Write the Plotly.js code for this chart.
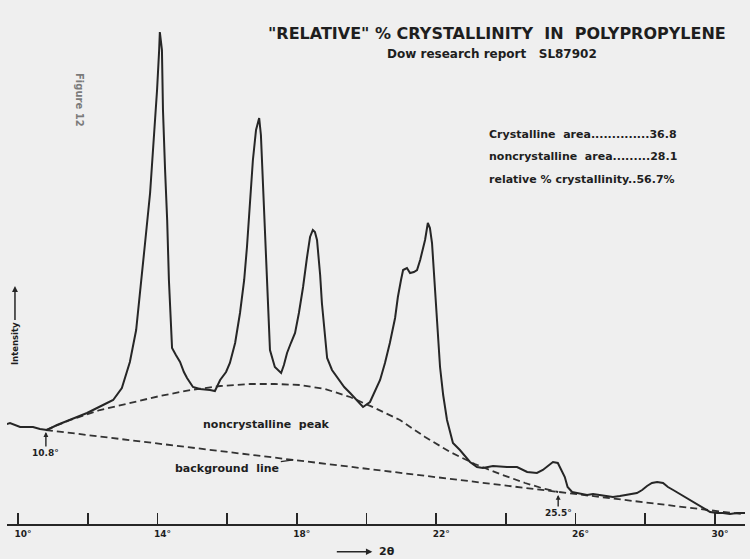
<!DOCTYPE html>
<html>
<head>
<meta charset="utf-8">
<script src="https://cdn.plot.ly/plotly-3.0.1.min.js"></script>
<style>
  html, body { margin: 0; padding: 0; background: #efefef; }
  #chart { width: 750px; height: 559px; }
</style>
</head>
<body>
<div id="chart"></div>
<script>
// Diffraction angle (degrees 2θ) and recorded intensity (arbitrary units)
const twoTheta = [9.68, 9.77, 10.06, 10.43, 10.63, 10.83, 11.12, 11.49, 11.98, 12.44, 12.73, 12.98, 13.21, 13.39, 13.50, 13.64, 13.79, 13.90, 13.99, 14.05, 14.07, 14.13, 14.16, 14.22, 14.28, 14.33, 14.39, 14.42, 14.53, 14.65, 14.76, 14.85, 15.02, 15.22, 15.51, 15.65, 15.80, 15.97, 16.08, 16.23, 16.37, 16.49, 16.57, 16.66, 16.74, 16.83, 16.92, 16.97, 17.03, 17.09, 17.15, 17.20, 17.23, 17.37, 17.55, 17.63, 17.72, 17.83, 17.95, 18.06, 18.18, 18.29, 18.38, 18.46, 18.52, 18.58, 18.67, 18.72, 18.81, 18.87, 19.01, 19.15, 19.36, 19.53, 19.73, 19.90, 20.10, 20.24, 20.39, 20.53, 20.67, 20.82, 20.90, 20.99, 21.05, 21.16, 21.25, 21.36, 21.45, 21.54, 21.59, 21.68, 21.76, 21.82, 21.88, 21.94, 21.99, 22.05, 22.11, 22.20, 22.31, 22.48, 22.68, 22.97, 23.17, 23.34, 23.63, 24.03, 24.32, 24.61, 24.89, 25.06, 25.35, 25.49, 25.69, 25.77, 25.90, 26.04, 26.18, 26.33, 26.50, 26.70, 26.90, 27.07, 27.27, 27.48, 27.62, 27.76, 27.91, 28.05, 28.19, 28.34, 28.51, 28.65, 28.80, 29.00, 29.20, 29.37, 29.57, 29.71, 29.86, 30.06, 30.23, 30.43, 30.63, 30.86];
const intensity = [100, 101, 97, 97, 95, 94, 99, 104, 111, 119, 124, 136, 162, 194, 234, 279, 331, 384, 434, 474, 492, 474, 414, 354, 304, 244, 194, 176, 169, 162, 152, 146, 137, 135, 134, 133, 144, 152, 161, 181, 211, 244, 277, 319, 364, 394, 406, 389, 337, 284, 237, 194, 174, 157, 151, 159, 171, 181, 191, 211, 237, 266, 287, 294, 292, 284, 249, 221, 184, 166, 154, 147, 137, 131, 124, 117, 122, 132, 144, 161, 181, 206, 227, 244, 254, 256, 251, 252, 254, 264, 271, 284, 301, 296, 281, 249, 214, 184, 157, 129, 104, 81, 74, 62, 57, 56, 58, 57, 57, 52, 51, 54, 62, 61, 47, 37, 32, 31, 30, 29, 30, 29, 28, 27, 28, 29, 30, 31, 34, 38, 41, 42, 41, 37, 34, 30, 26, 22, 18, 15, 12, 11, 11, 10, 11, 11];

// Amorphous (noncrystalline) hump, drawn between 10.8° and 25.5°
const amorphTheta = [10.80, 11.49, 12.35, 13.21, 14.07, 14.94, 15.80, 16.66, 17.37, 18.09, 18.81, 19.53, 20.24, 20.96, 21.68, 22.40, 23.11, 23.83, 24.55, 25.12, 25.50];
const amorphInt = [94, 104, 114, 121, 128, 134, 138, 140, 140, 139, 135, 127, 116, 104, 87, 72, 60, 50, 41, 35, 32];

// Straight background line
const bgTheta = [10.8, 30.75];
const bgInt = [94, 10];

// Axis ticks every 2°, labelled every 4°
const tickVals = [10, 12, 14, 16, 18, 20, 22, 24, 26, 28, 30];
const tickText = ['10°', '', '14°', '', '18°', '', '22°', '', '26°', '', '30°'];

// Integration limits marked on the trace
const limitLow = 10.8;
const limitHigh = 25.5;

// Summary figures
const crystArea = 36.8;
const noncrystArea = 28.1;
const relCryst = 56.7;

const ink = '#262626';
const lettering = 'DejaVu Sans, Verdana, sans-serif';

function interp(xs, ys, x) {
  for (let i = 1; i < xs.length; i++) {
    if (x <= xs[i]) {
      const t = (x - xs[i - 1]) / (xs[i] - xs[i - 1]);
      return ys[i - 1] + t * (ys[i] - ys[i - 1]);
    }
  }
  return ys[ys.length - 1];
}

const traces = [
  {
    x: bgTheta, y: bgInt, mode: 'lines', hoverinfo: 'skip',
    line: { color: '#333', width: 1.8, dash: '7px,4px' }
  },
  {
    x: amorphTheta, y: amorphInt, mode: 'lines', hoverinfo: 'skip',
    line: { color: '#333', width: 1.8, dash: '7px,4px' }
  },
  {
    x: twoTheta, y: intensity, mode: 'lines',
    line: { color: ink, width: 2 }
  }
];

const txt = (size, extra) => Object.assign({ family: lettering, size: size, color: '#1e1e1e', weight: 'bold' }, extra || {});
const nb = s => s.replace(/ /g, '\u00a0');

const annotations = [
  { xref: 'paper', yref: 'paper', x: 0.664, y: 0.936, xanchor: 'center', yanchor: 'middle', showarrow: false,
    text: nb('"RELATIVE" % CRYSTALLINITY  IN  POLYPROPYLENE'), font: txt(16) },
  { xref: 'paper', yref: 'paper', x: 0.657, y: 0.897, xanchor: 'center', yanchor: 'middle', showarrow: false,
    text: nb('Dow research report   SL87902'), font: txt(12) },
  { xref: 'paper', yref: 'paper', x: 0.650, y: 0.744, xanchor: 'left', yanchor: 'middle', showarrow: false,
    text: nb('Crystalline  area') + '..............' + crystArea.toFixed(1), font: txt(11) },
  { xref: 'paper', yref: 'paper', x: 0.650, y: 0.701, xanchor: 'left', yanchor: 'middle', showarrow: false,
    text: nb('noncrystalline  area') + '.........' + noncrystArea.toFixed(1), font: txt(11) },
  { xref: 'paper', yref: 'paper', x: 0.650, y: 0.658, xanchor: 'left', yanchor: 'middle', showarrow: false,
    text: nb('relative % crystallinity') + '..' + relCryst.toFixed(1) + '%', font: txt(11) },
  { xref: 'paper', yref: 'paper', x: 0.099, y: 0.809, xanchor: 'center', yanchor: 'middle', showarrow: false,
    textangle: 90, text: nb('Figure 12'), font: txt(10, { color: '#7a7a7a' }) },
  // Intensity label with its upward arrow
  { xref: 'paper', yref: 'paper', x: 0.0108, y: 0.454, showarrow: true, ax: 0, ay: 57,
    arrowhead: 2, arrowsize: 0.8, arrowwidth: 1.5, arrowcolor: ink, standoff: 0, startstandoff: 0,
    textangle: -90, text: 'Intensity', font: txt(8.5) },
  // "noncrystalline peak" and "background line" labels
  { xref: 'paper', yref: 'paper', x: 0.352, y: 0.189, xanchor: 'center', yanchor: 'middle', showarrow: false,
    text: nb('noncrystalline  peak'), font: txt(11) },
  { x: 17.9, y: interp(bgTheta, bgInt, 17.9), showarrow: true, ax: -66, ay: 9,
    arrowhead: 0, arrowwidth: 1.3, arrowcolor: ink, standoff: 0,
    text: nb('background  line'), font: txt(11) },
  // Integration limits
  { x: limitLow, y: interp(amorphTheta, amorphInt, limitLow) - 2, showarrow: true, ax: 0, ay: 21,
    arrowhead: 2, arrowsize: 0.7, arrowwidth: 1.4, arrowcolor: ink, standoff: 0,
    text: limitLow.toFixed(1) + '°', font: txt(9) },
  { x: limitHigh, y: interp(bgTheta, bgInt, limitHigh) - 3, showarrow: true, ax: 0, ay: 18,
    arrowhead: 2, arrowsize: 0.7, arrowwidth: 1.4, arrowcolor: ink, standoff: 0,
    text: limitHigh.toFixed(1) + '°', font: txt(9) },
  // 2θ direction arrow below the axis
  { xref: 'paper', yref: 'paper', x: 0.495, y: -0.053, showarrow: true, ax: -37, ay: 0,
    arrowhead: 2, arrowsize: 0.8, arrowwidth: 1.6, arrowcolor: ink, standoff: 0,
    text: '', font: txt(10) },
  { xref: 'paper', yref: 'paper', x: 0.515, y: -0.053, xanchor: 'center', yanchor: 'middle', showarrow: false,
    text: '2θ', font: txt(11) }
];

const layout = {
  width: 750, height: 559, autosize: false,
  margin: { l: 7, r: 5, t: 0, b: 35, pad: 0 },
  paper_bgcolor: '#efefef', plot_bgcolor: '#efefef',
  showlegend: false,
  xaxis: {
    range: [9.684, 30.861], showgrid: false, zeroline: false,
    showline: true, linecolor: ink, linewidth: 2,
    ticks: 'inside', ticklen: 11, tickwidth: 1.8, tickcolor: ink,
    tickvals: tickVals, ticktext: tickText, ticklabelshift: 5,
    tickfont: txt(9)
  },
  yaxis: { range: [0, 524], visible: false, fixedrange: true },
  annotations: annotations
};

Plotly.newPlot('chart', traces, layout, { staticPlot: true, displayModeBar: false });
</script>
</body>
</html>
